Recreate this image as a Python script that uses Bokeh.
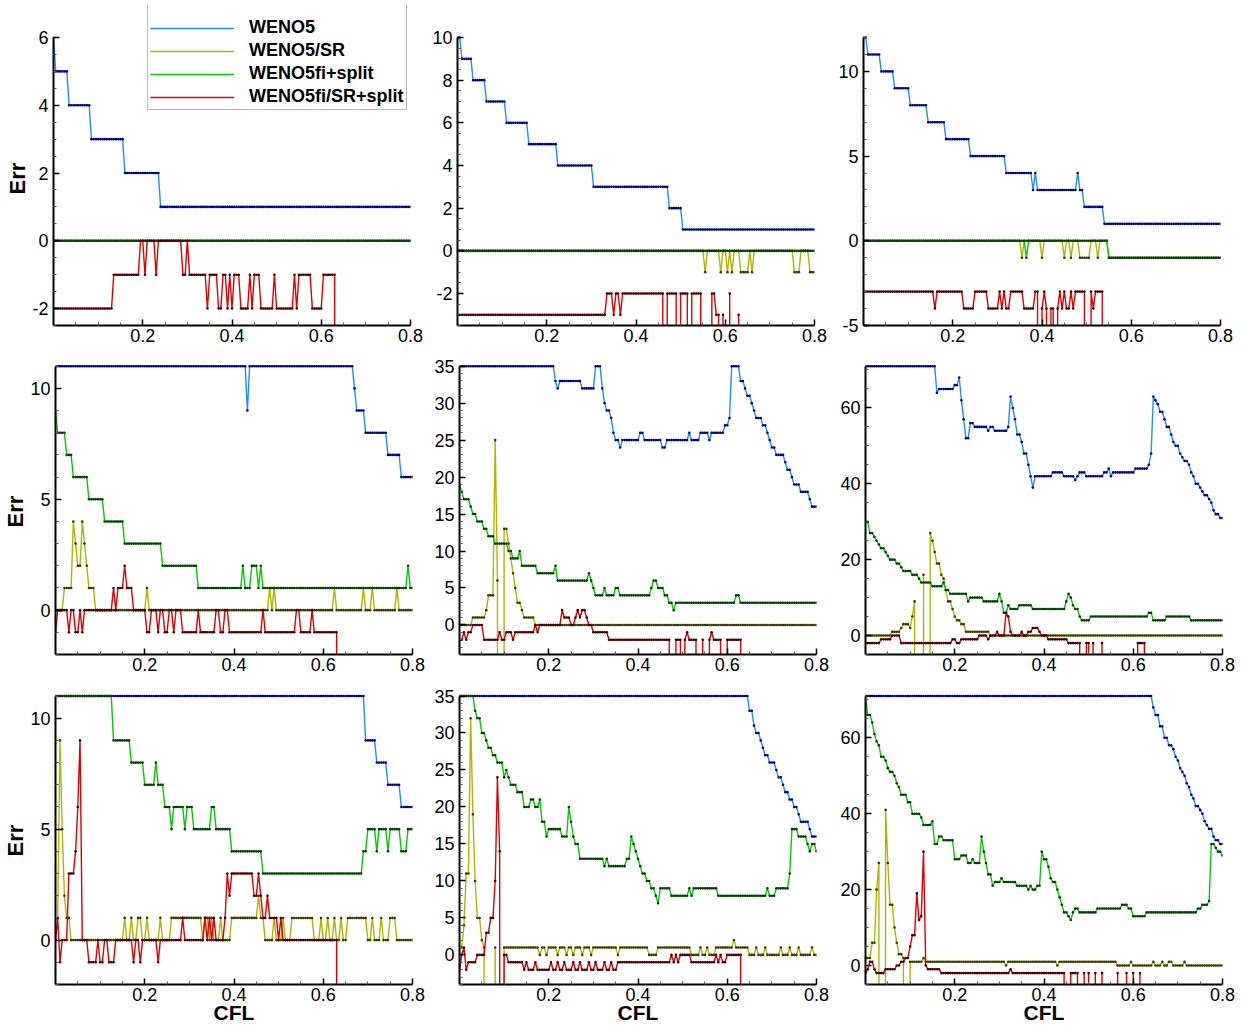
import math
from bokeh.plotting import figure
from bokeh.layouts import column, row
from bokeh.models import Range1d, FixedTicker, Legend, LegendItem, Title
from bokeh.embed import file_html
from bokeh.resources import INLINE

# ---------------------------------------------------------------- data
F = -1000          # failed run: value far below the axis
CFL_STEP = 0.005
N_CFL = 161        # CFL = 0 ... 0.8

SERIES_NAMES = ["WENO5", "WENO5/SR", "WENO5fi+split", "WENO5fi/SR+split"]

# each series: list of (start index, Err value); value holds until next start index
P1_WENO5 = [(0, 6), (1, 5), (7, 4), (17, 3), (32, 2), (48, 1)]
P1_WENO5_SR = [(0, 0)]
P1_WENO5FI_SPLIT = [(0, 0)]
P1_WENO5FI_SR_SPLIT = [(0, -2), (27, -1), (39, 0), (41, -1), (42, 0), (46, -1), (47, 0), (58, -1), (60, 0),
                       (61, -1), (69, -2), (70, -1), (74, -2), (76, -1), (78, -2), (79, -1), (80, -2), (81, -1),
                       (84, -2), (88, -1), (89, -2), (90, -1), (93, -2), (99, -1), (100, -2), (108, -1),
                       (109, -2), (110, -1), (116, -2), (121, -1), (127, F)]
P1_RED_LEN = 128

P2_WENO5 = [(0, 10), (2, 9), (7, 8), (13, 7), (22, 6), (32, 5), (45, 4), (61, 3), (95, 2), (101, 1)]
P2_WENO5_SR = [(0, 0), (111, -1), (112, 0), (118, -1), (119, 0), (121, -1), (122, 0), (123, -1), (124, 0),
               (127, -1), (131, 0), (132, -1), (133, 0), (151, -1), (154, 0), (158, -1)]
P2_WENO5FI_SPLIT = [(0, 0)]
P2_WENO5FI_SR_SPLIT = [(0, -3), (67, -2), (70, -3), (71, -2), (73, -3), (74, -2), (93, F), (94, -2), (99, F),
                       (100, -2), (104, F), (105, -2), (110, F), (114, -2), (116, -3), (118, F), (119, -3),
                       (120, F), (122, -2), (123, F), (126, -3), (127, F)]
P2_RED_LEN = 128

P3_WENO5 = [(0, 12), (2, 11), (8, 10), (14, 9), (21, 8), (29, 7), (37, 6), (48, 5), (64, 4), (76, 3), (77, 4),
            (78, 3), (96, 4), (97, 3), (99, 2), (108, 1)]
P3_WENO5_SR = [(0, 0), (71, -1), (72, 0), (80, -1), (81, 0), (90, -1), (91, 0), (93, -1), (94, 0), (97, -1),
               (102, 0), (105, -1), (106, 0), (110, -1)]
P3_WENO5FI_SPLIT = [(0, 0), (73, -1), (74, 0), (110, -1)]
P3_WENO5FI_SR_SPLIT = [(0, -3), (32, -4), (33, -3), (45, -4), (50, -3), (56, -4), (61, -3), (62, -4), (63, -3),
                       (64, -4), (66, -3), (72, -4), (77, -3), (79, F), (80, -4), (81, -3), (82, -4), (83, F),
                       (84, -4), (86, F), (87, -4), (88, -3), (89, -4), (90, -3), (91, -4), (93, -3), (94, -4),
                       (95, -3), (100, F), (102, -3), (103, -4), (104, -3), (108, F)]
P3_RED_LEN = 109

P4_WENO5 = [(0, 11), (86, 9), (87, 11), (134, 10), (135, 9), (139, 8), (149, 7), (155, 6)]
P4_WENO5_SR = [(0, 0), (4, 1), (8, 4), (9, 3), (10, 2), (12, 4), (13, 3), (14, 2), (15, 1), (18, 0), (41, 1),
               (42, 0), (96, 1), (97, 0), (98, 1), (99, 0), (125, 1), (126, 0), (138, 1), (139, 0), (142, 1),
               (143, 0), (153, 1), (154, 0)]
P4_WENO5FI_SPLIT = [(0, 9), (1, 8), (5, 7), (8, 6), (15, 5), (22, 4), (31, 3), (48, 2), (64, 1), (84, 2),
                    (85, 1), (88, 2), (91, 1), (92, 2), (93, 1), (158, 2), (159, 1)]
P4_WENO5FI_SR_SPLIT = [(0, -1), (1, 0), (6, -1), (7, 0), (9, -1), (11, 0), (12, -1), (13, 0), (26, 1), (27, 0),
                       (28, 1), (31, 2), (32, 1), (35, 0), (41, -1), (43, 0), (46, -1), (47, 0), (49, -1),
                       (51, 0), (53, -1), (54, 0), (57, -1), (64, 0), (65, -1), (72, 0), (74, -1), (76, 0),
                       (78, -1), (93, 0), (94, -1), (108, 0), (110, -1), (115, 0), (116, -1), (127, F)]
P4_RED_LEN = 128

P5_WENO5 = [(0, 35), (43, 33), (44, 32), (45, 33), (55, 32), (61, 35), (64, 32), (65, 30), (66, 29), (68, 28),
            (69, 26), (70, 25), (72, 24), (73, 25), (81, 26), (83, 25), (91, 24), (93, 25), (103, 26),
            (104, 25), (108, 26), (112, 25), (113, 26), (119, 27), (121, 28), (122, 35), (126, 33),
            (128, 32), (129, 31), (131, 30), (132, 29), (133, 28), (136, 27), (138, 26), (139, 25),
            (140, 24), (142, 23), (146, 22), (147, 21), (149, 20), (150, 19), (153, 18), (157, 17), (158, 16)]
P5_WENO5_SR = [(0, 0), (6, 1), (12, 2), (13, 4), (16, 25), (17, 6), (18, F), (20, 13), (22, 11), (23, 9),
               (24, 7), (25, 5), (26, 3), (28, 2), (29, 1), (34, 0)]
P5_WENO5FI_SPLIT = [(0, 19), (1, 18), (2, 17), (5, 16), (6, 15), (8, 14), (11, 13), (13, 12), (16, 11),
                    (22, 10), (24, 9), (27, 10), (28, 8), (35, 7), (43, 8), (44, 6), (58, 7), (59, 6),
                    (60, 5), (61, 4), (65, 5), (66, 4), (70, 5), (72, 4), (86, 5), (87, 6), (89, 5), (92, 4),
                    (94, 3), (96, 2), (97, 3), (124, 4), (126, 3)]
P5_WENO5FI_SR_SPLIT = [(0, -2), (2, -1), (3, -2), (4, -1), (6, 0), (11, -2), (18, -1), (19, -2), (21, -1),
                       (24, -2), (25, -1), (34, 0), (35, -1), (36, 0), (46, 2), (47, 1), (50, 0), (52, 1),
                       (53, 2), (54, 1), (55, 2), (57, 1), (58, 0), (60, -1), (67, -2), (95, F), (97, -2),
                       (100, F), (101, -2), (102, -1), (103, -2), (107, F), (109, -2), (110, F), (112, -2),
                       (113, -1), (114, -2), (118, F), (120, -2), (127, F)]
P5_RED_LEN = 128

P6_WENO5 = [(0, 71), (32, 64), (33, 65), (40, 66), (42, 68), (43, 62), (44, 57), (45, 52), (47, 56), (49, 55),
            (55, 54), (56, 55), (58, 54), (64, 55), (65, 63), (66, 60), (67, 57), (68, 53), (70, 51), (71, 48),
            (73, 45), (74, 42), (75, 39), (76, 42), (84, 43), (89, 42), (94, 41), (95, 42), (96, 43),
            (99, 42), (107, 43), (109, 44), (110, 42), (111, 43), (121, 44), (127, 45), (128, 48),
            (129, 63), (130, 62), (131, 61), (132, 59), (134, 57), (135, 55), (137, 53), (138, 51),
            (139, 50), (141, 48), (142, 47), (143, 46), (145, 45), (146, 43), (147, 42), (148, 40),
            (150, 39), (151, 38), (152, 37), (154, 36), (155, 35), (156, 33), (157, 32), (159, 31)]
P6_WENO5_SR = [(0, 0), (12, 1), (16, 2), (17, 3), (20, 2), (21, 5), (22, 9), (23, F), (26, 16), (27, F),
               (29, 27), (30, 25), (31, 22), (32, 19), (34, 16), (35, 15), (36, 12), (37, 9), (39, 7),
               (40, 5), (41, 4), (43, 3), (45, 1), (56, 0)]
P6_WENO5FI_SPLIT = [(0, 30), (2, 27), (4, 26), (5, 25), (6, 24), (7, 23), (9, 22), (10, 21), (11, 20),
                    (14, 19), (16, 18), (17, 17), (21, 16), (24, 15), (25, 14), (30, 13), (35, 14), (36, 12),
                    (38, 11), (46, 9), (47, 10), (53, 9), (60, 11), (61, 9), (62, 6), (64, 8), (65, 7),
                    (69, 8), (75, 7), (90, 9), (91, 11), (92, 10), (93, 8), (94, 7), (96, 5), (97, 4),
                    (101, 5), (127, 6), (129, 4), (135, 5), (146, 4)]
P6_WENO5FI_SR_SPLIT = [(0, -2), (7, -1), (12, 0), (16, -2), (39, -1), (41, -2), (43, -1), (51, 0), (55, -1),
                       (56, 0), (59, 1), (60, 0), (63, 6), (64, 5), (65, 1), (66, 0), (70, 1), (71, 0),
                       (73, 1), (75, 2), (78, 1), (79, 0), (82, -1), (91, -2), (97, F), (99, -2), (101, F),
                       (102, -2), (103, F), (106, -2), (107, F), (122, -2), (126, F)]
P6_RED_LEN = 127

P7_WENO5 = [(0, 11), (139, 9), (144, 8), (149, 7), (155, 6)]
P7_WENO5_SR = [(0, 1), (2, 9), (3, 5), (4, 2), (5, 1), (7, 0), (31, 1), (32, 0), (34, 1), (35, 0), (37, 1),
               (39, 0), (41, 1), (42, 0), (47, 1), (48, 0), (52, 1), (66, 0), (67, 1), (69, 0), (70, 1),
               (71, 0), (74, 1), (75, 0), (79, 1), (91, 2), (92, 1), (94, 0), (98, 1), (99, 0), (102, 1),
               (103, 0), (106, 1), (116, 0), (119, 1), (120, 0), (122, 1), (123, 0), (125, 1), (126, 0),
               (128, 1), (129, 0), (131, 1), (140, 0), (142, 1), (143, 0), (146, 1), (147, 0), (150, 1),
               (153, 0)]
P7_WENO5FI_SPLIT = [(0, 11), (26, 9), (34, 8), (40, 7), (45, 8), (46, 7), (49, 6), (52, 5), (53, 6), (58, 5),
                    (59, 6), (62, 5), (70, 6), (72, 5), (79, 4), (93, 3), (138, 4), (140, 5), (144, 4),
                    (145, 5), (149, 4), (150, 5), (155, 4), (158, 5)]
P7_WENO5FI_SR_SPLIT = [(0, 0), (1, 1), (2, -1), (3, 0), (6, 3), (9, 4), (10, 6), (11, 9), (12, 0), (15, -1),
                       (19, 0), (20, -1), (22, 0), (24, -1), (27, 0), (35, -1), (36, 0), (38, -1), (39, 0),
                       (46, -1), (47, 0), (57, 1), (58, 0), (67, 1), (68, 0), (69, 1), (70, 0), (71, 1),
                       (72, 0), (76, 1), (77, 3), (78, 2), (79, 3), (89, 2), (91, 3), (92, 2), (93, 1),
                       (95, 2), (96, 1), (100, 0), (101, 1), (102, 0), (127, F)]
P7_RED_LEN = 128

P8_WENO5 = [(0, 35), (130, 33), (132, 31), (133, 30), (135, 29), (136, 28), (137, 27), (139, 26), (142, 25),
            (143, 24), (145, 23), (146, 22), (148, 21), (150, 20), (152, 19), (153, 18), (157, 17), (158, 16)]
P8_WENO5_SR = [(0, 1), (2, 4), (3, 11), (5, 32), (6, 19), (7, 10), (8, 5), (10, 2), (11, 1), (12, F),
               (16, 1), (17, F), (20, 1), (36, 0), (37, 1), (39, 0), (40, 1), (44, 0), (45, 1), (48, 0),
               (49, 1), (51, 0), (52, 1), (55, 0), (56, 1), (59, 0), (60, 1), (71, 0), (72, 1), (85, 0),
               (89, 1), (104, 0), (108, 1), (109, 0), (111, 1), (112, 0), (115, 1), (123, 2), (124, 1),
               (130, 0), (133, 1), (134, 0), (137, 1), (138, 0), (144, 1), (145, 0), (148, 1), (149, 0),
               (152, 1), (153, 0), (158, 1), (159, 0)]
P8_WENO5FI_SPLIT = [(0, 35), (7, 33), (8, 32), (10, 30), (12, 29), (13, 28), (15, 27), (17, 26), (20, 24),
                    (21, 25), (22, 24), (23, 23), (26, 22), (29, 20), (32, 21), (34, 20), (36, 21), (37, 18),
                    (39, 16), (40, 17), (46, 16), (49, 20), (50, 18), (51, 16), (52, 15), (54, 13), (65, 12),
                    (66, 13), (67, 12), (75, 13), (77, 16), (78, 15), (79, 14), (80, 13), (81, 12), (82, 11),
                    (84, 10), (86, 9), (88, 8), (89, 7), (90, 9), (95, 8), (103, 9), (104, 8), (105, 9),
                    (116, 8), (138, 9), (139, 8), (142, 9), (148, 11), (149, 17), (152, 16), (156, 15),
                    (157, 14), (158, 15), (160, 14)]
P8_WENO5FI_SR_SPLIT = [(0, -2), (1, 0), (2, 1), (3, -2), (4, -1), (8, 0), (12, 3), (14, 5), (16, 10), (17, 24),
                       (18, 14), (19, F), (20, 0), (22, -1), (29, -2), (30, -1), (31, -2), (34, -1), (35, -2),
                       (41, -1), (42, -2), (44, -1), (45, -2), (47, -1), (48, -2), (51, -1), (52, -2),
                       (54, -1), (55, -2), (58, -1), (59, -2), (61, -1), (62, -2), (65, -1), (66, -2),
                       (68, -1), (69, -2), (71, -1), (95, 0),
                       (96, -1), (97, 0), (98, -1), (99, 0), (104, -1), (115, 0), (116, -1), (117, 0),
                       (118, -1), (120, 0), (127, F)]
P8_RED_LEN = 128

P9_WENO5 = [(0, 71), (129, 68), (130, 66), (132, 63), (134, 60), (136, 58), (138, 57), (139, 55), (140, 54),
            (141, 52), (142, 51), (143, 50), (144, 48), (145, 47), (146, 45), (147, 44), (148, 42),
            (150, 41), (151, 40), (152, 38), (153, 37), (154, 36), (156, 34), (157, 33), (159, 32)]
P9_WENO5_SR = [(0, 2), (3, 6), (5, 20), (6, 27), (7, F), (9, 41), (10, 27), (11, 16), (13, 10), (14, 6),
               (15, 3), (17, 2), (18, F), (20, 1), (26, 2), (27, 1), (63, 0), (64, 1), (86, 0), (87, 1),
               (113, 0), (119, 1), (120, 0), (129, 1), (130, 0), (133, 1), (134, 0), (136, 1), (138, 0),
               (143, 1), (144, 0)]
P9_WENO5FI_SPLIT = [(0, 71), (1, 66), (3, 64), (4, 61), (5, 59), (6, 58), (7, 55), (9, 54), (10, 52),
                    (11, 51), (13, 50), (14, 48), (15, 47), (16, 45), (19, 43), (21, 40), (25, 39), (26, 37),
                    (30, 38), (31, 32), (33, 34), (35, 33), (40, 28), (43, 29), (46, 27), (48, 28), (49, 27),
                    (52, 34), (53, 30), (54, 27), (55, 24), (57, 21), (58, 22), (61, 23), (62, 22), (68, 21),
                    (73, 20), (74, 21), (75, 20), (77, 21), (79, 30), (80, 28), (82, 26), (83, 23), (84, 22),
                    (86, 20), (87, 18), (88, 16), (89, 14), (91, 13), (92, 12), (93, 14), (94, 15), (96, 14),
                    (104, 15), (115, 16), (118, 15), (120, 13), (126, 14), (149, 15), (151, 16), (154, 17),
                    (155, 32), (157, 31), (158, 30), (160, 29)]
P9_WENO5FI_SR_SPLIT = [(0, -2), (1, -1), (2, 1), (4, -1), (5, -2), (9, -1), (14, 0), (16, 1), (18, 2),
                       (20, 5), (21, 8), (23, 19), (24, 12), (25, 13), (26, 30), (27, 0), (28, -1), (34, -2),
                       (65, -1), (66, -2), (90, F), (92, -2), (96, F), (98, -2), (99, F), (100, -2), (101, F),
                       (103, -2), (104, F), (106, -2), (107, F), (113, -2), (114, F), (117, -2), (118, F),
                       (120, -2), (121, F), (123, -2), (124, F)]
P9_RED_LEN = 125

# y-axis limits and ticks per panel
Y_LIMITS = [(-2.5, 6), (-3.5, 10), (-5, 12), (-2, 11), (-4, 35), (-5, 71), (-2, 11), (-4, 35), (-5, 71)]
Y_MAJOR = [[-2, 0, 2, 4, 6], [-2, 0, 2, 4, 6, 8, 10], [-5, 0, 5, 10], [0, 5, 10],
           [0, 5, 10, 15, 20, 25, 30, 35], [0, 20, 40, 60], [0, 5, 10],
           [0, 5, 10, 15, 20, 25, 30, 35], [0, 20, 40, 60]]
Y_MINOR_STEP = [0.5, 0.5, 1, 1, 1, 5, 1, 1, 5]
X_MAJOR = [0.2, 0.4, 0.6, 0.8]
X_MINOR_STEP = 0.05
X_TITLE = "CFL"
Y_TITLE = "Err"

PANELS = [
    (P1_WENO5, P1_WENO5_SR, P1_WENO5FI_SPLIT, P1_WENO5FI_SR_SPLIT, P1_RED_LEN),
    (P2_WENO5, P2_WENO5_SR, P2_WENO5FI_SPLIT, P2_WENO5FI_SR_SPLIT, P2_RED_LEN),
    (P3_WENO5, P3_WENO5_SR, P3_WENO5FI_SPLIT, P3_WENO5FI_SR_SPLIT, P3_RED_LEN),
    (P4_WENO5, P4_WENO5_SR, P4_WENO5FI_SPLIT, P4_WENO5FI_SR_SPLIT, P4_RED_LEN),
    (P5_WENO5, P5_WENO5_SR, P5_WENO5FI_SPLIT, P5_WENO5FI_SR_SPLIT, P5_RED_LEN),
    (P6_WENO5, P6_WENO5_SR, P6_WENO5FI_SPLIT, P6_WENO5FI_SR_SPLIT, P6_RED_LEN),
    (P7_WENO5, P7_WENO5_SR, P7_WENO5FI_SPLIT, P7_WENO5FI_SR_SPLIT, P7_RED_LEN),
    (P8_WENO5, P8_WENO5_SR, P8_WENO5FI_SPLIT, P8_WENO5FI_SR_SPLIT, P8_RED_LEN),
    (P9_WENO5, P9_WENO5_SR, P9_WENO5FI_SPLIT, P9_WENO5FI_SR_SPLIT, P9_RED_LEN),
]

# ---------------------------------------------------------------- styles
LINE_COLORS = ["#1e8fff", "#b4b400", "#00cc00", "#e00000"]
DOT_COLORS = ["#00008b", "#3a3a00", "#004000", "#4a0000"]
FONT = "Liberation Sans"

FRAME_W = 357
COL_LEFT = [53, 31, 33]
COL_RIGHT = 16
ROW_TOP = [5, 0, 0]
ROW_FRAME_H = [320, 299, 300]
ROW_PAD = [32, 10.7, 11.5]
ROW_BOTTOM = [30, 30, 42]
ERR_OFFSET = [131, 127, 128]


def expand(bp, n):
    vals = []
    for k, (i, v) in enumerate(bp):
        j = bp[k + 1][0] if k + 1 < len(bp) else n
        vals += [v] * (j - i)
    return vals[:n]


def ticks_between(lo, hi, step, exclude):
    out = []
    k = math.ceil(lo / step - 1e-9)
    while k * step <= hi + 1e-9:
        t = round(k * step, 4)
        if all(abs(t - e) > 1e-9 for e in exclude):
            out.append(t)
        k += 1
    return out


def make_panel(k):
    r, c = divmod(k, 3)
    ymin, ymax = Y_LIMITS[k]
    fh = ROW_FRAME_H[r]
    pad = ROW_PAD[r]
    yend = ymax + pad * (ymax - ymin) / (fh - pad)
    p = figure(frame_width=FRAME_W, frame_height=fh,
               x_range=Range1d(0, 0.8), y_range=Range1d(ymin, yend),
               output_backend="svg", toolbar_location=None, title=None,
               min_border_left=COL_LEFT[c], min_border_right=COL_RIGHT,
               min_border_top=ROW_TOP[r], min_border_bottom=ROW_BOTTOM[r])
    p.outline_line_color = None
    p.grid.visible = False
    p.background_fill_color = "white"
    p.border_fill_color = "white"

    xa = p.xaxis[0]
    ya = p.yaxis[0]
    xa.ticker = FixedTicker(ticks=X_MAJOR,
                            minor_ticks=ticks_between(0, 0.8, X_MINOR_STEP, X_MAJOR))
    ya.ticker = FixedTicker(ticks=Y_MAJOR[k],
                            minor_ticks=ticks_between(ymin, ymax, Y_MINOR_STEP[k], Y_MAJOR[k]))
    ya.major_label_overrides = {t: "-%g" % (-t) for t in Y_MAJOR[k] if t < 0}
    ya.bounds = (ymin, ymax)
    xa.bounds = (0, 0.8)
    for ax in (xa, ya):
        ax.axis_line_width = 2
        ax.axis_line_color = "black"
        ax.major_tick_in = 6
        ax.major_tick_out = 0
        ax.minor_tick_in = 3
        ax.minor_tick_out = 0
        ax.major_tick_line_width = 1.5
        ax.minor_tick_line_width = 1
        ax.major_tick_line_color = "black"
        ax.minor_tick_line_color = "#555555"
        ax.major_label_text_font = FONT
        ax.major_label_text_font_size = "18px"
        ax.major_label_text_color = "black"
        ax.axis_label_text_font = FONT
        ax.axis_label_text_font_style = "bold"
        ax.axis_label_text_color = "black"
    xa.major_label_standoff = 3
    ya.major_label_standoff = 5

    if c == 0:
        p.add_layout(Title(text=Y_TITLE, align="left", offset=ERR_OFFSET[r], standoff=0,
                           text_font=FONT, text_font_style="bold", text_font_size="22px",
                           text_color="black"), "left")
    if r == 2:
        xa.axis_label = X_TITLE
        xa.axis_label_text_font_size = "21px"
        xa.axis_label_standoff = -3

    data = PANELS[k]
    red_len = data[4]
    items = []
    for s in range(4):
        n = red_len if s == 3 else N_CFL
        ys = expand(data[s], n)
        xs = [i * CFL_STEP for i in range(n)]
        lr = p.line(xs, ys, line_color=LINE_COLORS[s], line_width=1.4)
        p.scatter(xs, ys, size=2.6, fill_color=DOT_COLORS[s], line_color=None)
        items.append(LegendItem(label=SERIES_NAMES[s], renderers=[lr]))

    if k == 0:
        lg = Legend(items=items, location=(94, 215))
        lg.margin = 0
        lg.padding = 2
        lg.spacing = 2
        lg.title = " "
        lg.title_text_font_size = "11px"
        lg.title_standoff = 2
        lg.glyph_width = 84
        lg.glyph_height = 20
        lg.label_height = 20
        lg.label_standoff = 15
        lg.label_text_font = FONT
        lg.label_text_font_style = "bold"
        lg.label_text_font_size = "18px"
        lg.label_text_color = "black"
        lg.border_line_color = "#777777"
        lg.border_line_width = 1
        lg.background_fill_alpha = 1.0
        p.add_layout(lg)
    return p


figs = [make_panel(k) for k in range(9)]
layout = column(row(*figs[0:3]), row(*figs[3:6]), row(*figs[6:9]))

open("out.html", "w").write(file_html(layout, INLINE))
